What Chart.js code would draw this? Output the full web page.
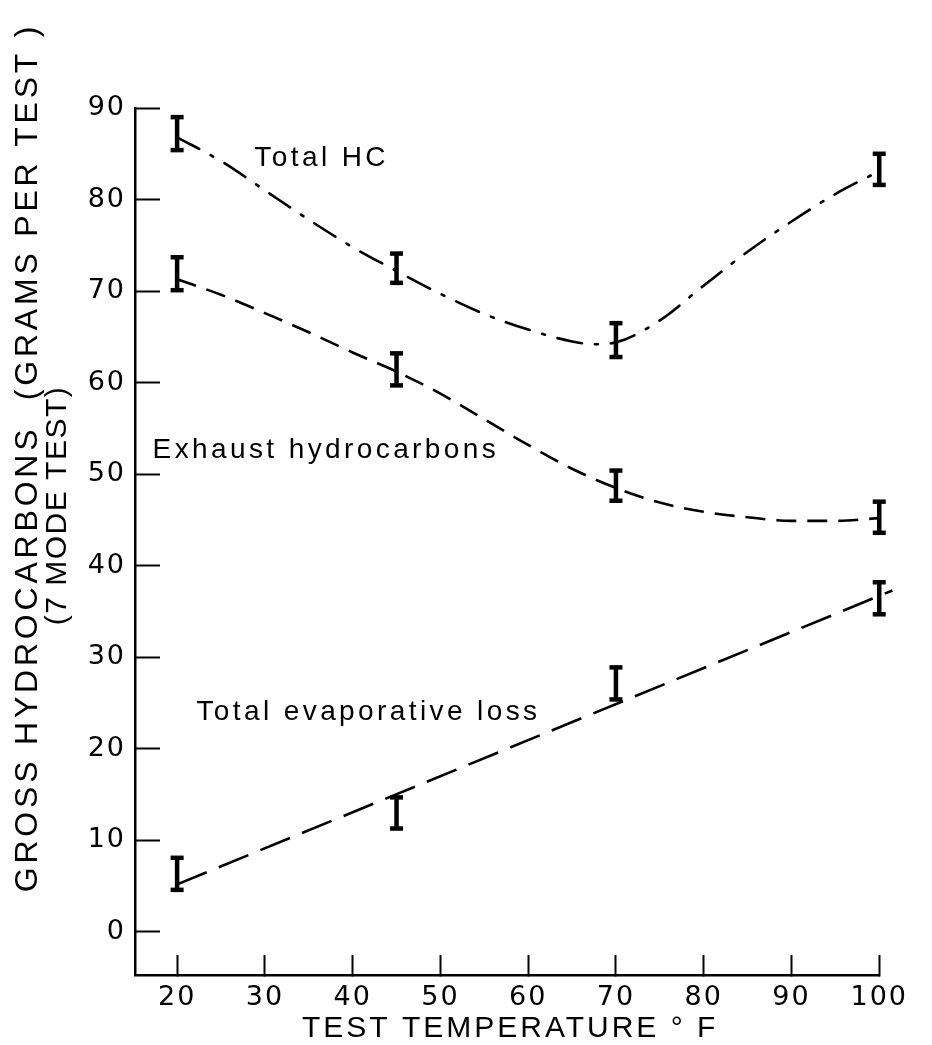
<!DOCTYPE html>
<html>
<head>
<meta charset="utf-8">
<script src="https://cdn.jsdelivr.net/npm/chart.js@4.4.1/dist/chart.umd.min.js"></script>
<style>
  html, body { margin: 0; padding: 0; background: #fff; }
  #wrap { width: 932px; height: 1045px; position: relative; }
</style>
</head>
<body>
<div id="wrap"><canvas id="chart"></canvas></div>
<script>
// Test temperatures (°F) of the measurements
const temps = [20, 45, 70, 100];

// Measured ranges, grams per test (drawn as error bars)
const totalHcLow  = [85.4, 70.9, 62.8, 81.6];
const totalHcHigh = [89.0, 74.1, 66.5, 85.0];
const exhaustLow  = [70.1, 59.7, 47.1, 43.6];
const exhaustHigh = [73.7, 63.2, 50.4, 47.0];
const evapLow     = [4.6, 11.3, 25.4, 34.7];
const evapHigh    = [8.1, 14.7, 28.9, 38.2];

// Faired curves through the measurements
const totalHcCurveT = [20, 25, 30, 35, 40, 45, 50, 55, 60, 65, 67.5, 70, 75, 80, 85, 90, 95, 100];
const totalHcCurve  = [86.8, 84.2, 81.0, 77.8, 74.8, 72.2, 69.7, 67.5, 65.8, 64.5, 64.2, 64.4, 66.8, 70.6, 74.3, 77.6, 80.6, 83.1];
const exhaustCurveT = [20, 25, 30, 35, 40, 45, 50, 55, 60, 65, 70, 75, 80, 85, 90, 95, 100];
const exhaustCurve  = [71.3, 69.6, 67.6, 65.5, 63.3, 61.2, 58.8, 56.0, 53.2, 50.6, 48.5, 46.9, 45.9, 45.3, 44.9, 44.9, 45.2];
const evapLineT = [20, 101.5];
const evapLine  = [5.2, 37.3];

// Axis ticks
const xTicks = [20, 30, 40, 50, 60, 70, 80, 90, 100];
const yTicks = [0, 10, 20, 30, 40, 50, 60, 70, 80, 90];

const INK = '#000';
const toXY = (xs, ys) => xs.map((x, i) => ({ x: x, y: ys[i] }));

// Vertical stems: one segment per temperature, separated by gaps
function stems(lo, hi) {
  const pts = [];
  temps.forEach((t, i) => {
    pts.push({ x: t, y: lo[i] }, { x: t, y: hi[i] }, { x: t, y: null });
  });
  return pts;
}
function caps(lo, hi) {
  return temps.flatMap((t, i) => [{ x: t, y: lo[i] }, { x: t, y: hi[i] }]);
}

const curveStyle = {
  type: 'line', borderColor: INK, borderWidth: 2.6, pointRadius: 0,
  fill: false, clip: false, order: 2, borderCapStyle: 'butt'
};
const stemStyle = {
  type: 'line', borderColor: INK, borderWidth: 4.5, pointRadius: 0,
  spanGaps: false, clip: false, order: 0, tension: 0
};
const capStyle = {
  type: 'scatter', pointStyle: 'line', pointRadius: 6.5, borderColor: INK,
  backgroundColor: INK, pointBorderWidth: 4.5, borderWidth: 4.5, clip: false, order: 0
};

const datasets = [
  Object.assign({}, curveStyle, {
    label: 'Total HC', data: toXY(totalHcCurveT, totalHcCurve),
    cubicInterpolationMode: 'monotone', borderDash: [25, 13, 3, 13], borderCapStyle: 'round'
  }),
  Object.assign({}, curveStyle, {
    label: 'Exhaust hydrocarbons', data: toXY(exhaustCurveT, exhaustCurve),
    cubicInterpolationMode: 'monotone', borderDash: [20, 11]
  }),
  Object.assign({}, curveStyle, {
    label: 'Total evaporative loss', data: toXY(evapLineT, evapLine),
    tension: 0, borderDash: [32, 13]
  }),
  Object.assign({}, stemStyle, { label: 'Total HC range', data: stems(totalHcLow, totalHcHigh) }),
  Object.assign({}, stemStyle, { label: 'Exhaust range', data: stems(exhaustLow, exhaustHigh) }),
  Object.assign({}, stemStyle, { label: 'Evaporative range', data: stems(evapLow, evapHigh) }),
  Object.assign({}, capStyle, { label: 'Total HC caps', data: caps(totalHcLow, totalHcHigh) }),
  Object.assign({}, capStyle, { label: 'Exhaust caps', data: caps(exhaustLow, exhaustHigh) }),
  Object.assign({}, capStyle, { label: 'Evaporative caps', data: caps(evapLow, evapHigh) })
];

// Curve labels, anchored in data units at the text baseline start
const curveNotes = [
  { text: 'Total HC', x: 28.8, y: 83.7 },
  { text: 'Exhaust hydrocarbons', x: 17.2, y: 51.75 },
  { text: 'Total evaporative loss', x: 22.2, y: 23.1 }
];
const xTitle = 'TEST TEMPERATURE \u00B0 F';
const yTitle1 = 'GROSS HYDROCARBONS  (GRAMS PER TEST )';
const yTitle2 = '(7 MODE TEST)';

const textPlugin = {
  id: 'chartText',
  beforeDraw(chart) {
    chart.ctx.letterSpacing = '2px';
  },
  afterDraw(chart) {
    const ctx = chart.ctx;
    const xs = chart.scales.x, ys = chart.scales.y;
    const area = chart.chartArea;
    ctx.save();
    ctx.fillStyle = INK;

    // labels beside the curves
    ctx.font = '28px "Liberation Sans", Arial, sans-serif';
    ctx.letterSpacing = '3.4px';
    ctx.textAlign = 'left';
    ctx.textBaseline = 'alphabetic';
    curveNotes.forEach(n => {
      ctx.fillText(n.text, xs.getPixelForValue(n.x), ys.getPixelForValue(n.y));
    });

    // x-axis title
    ctx.font = '30px "Liberation Sans", Arial, sans-serif';
    ctx.letterSpacing = '3px';
    ctx.textAlign = 'center';
    ctx.fillText(xTitle, (area.left + area.right) / 2 + 3, chart.height - 8);

    // y-axis title, two rotated lines
    const midY = (area.top + area.bottom) / 2;
    ctx.font = '32px "Liberation Sans", Arial, sans-serif';
    ctx.letterSpacing = '3.8px';
    ctx.save();
    ctx.translate(37, midY - 84);
    ctx.rotate(-Math.PI / 2);
    ctx.fillText(yTitle1, 0, 0);
    ctx.restore();

    ctx.font = '30px "Liberation Sans", Arial, sans-serif';
    ctx.letterSpacing = '1.5px';
    ctx.save();
    ctx.translate(66, midY - 36);
    ctx.rotate(-Math.PI / 2);
    ctx.fillText(yTitle2, 0, 0);
    ctx.restore();

    ctx.restore();
    ctx.letterSpacing = '0px';
  }
};

const tickFont = { family: '"DejaVu Sans", sans-serif', size: 27 };

new Chart(document.getElementById('chart'), {
  type: 'line',
  data: { datasets: datasets },
  options: {
    responsive: true,
    maintainAspectRatio: false,
    animation: false,
    events: [],
    layout: { padding: { left: 0, right: 33, top: 108, bottom: 0 } },
    plugins: { legend: { display: false }, tooltip: { enabled: false } },
    scales: {
      x: {
        type: 'linear', min: 15.2, max: 100, offset: false,
        afterBuildTicks: s => { s.ticks = xTicks.map(v => ({ value: v })); },
        afterFit: s => { s.height = 70; },
        grid: { drawOnChartArea: false, tickLength: -20, tickWidth: 2, tickColor: INK },
        border: { color: INK, width: 2.5 },
        ticks: { padding: 27, color: INK, font: tickFont, maxRotation: 0, autoSkip: false }
      },
      y: {
        type: 'linear', min: -4.7, max: 90,
        afterBuildTicks: s => { s.ticks = yTicks.map(v => ({ value: v })); },
        afterFit: s => { s.width = 135; },
        grid: { drawOnChartArea: false, tickLength: -25, tickWidth: 2, tickColor: INK },
        border: { color: INK, width: 2.5 },
        ticks: { padding: 34, color: INK, font: tickFont, autoSkip: false }
      }
    }
  },
  plugins: [textPlugin]
});
</script>
</body>
</html>
